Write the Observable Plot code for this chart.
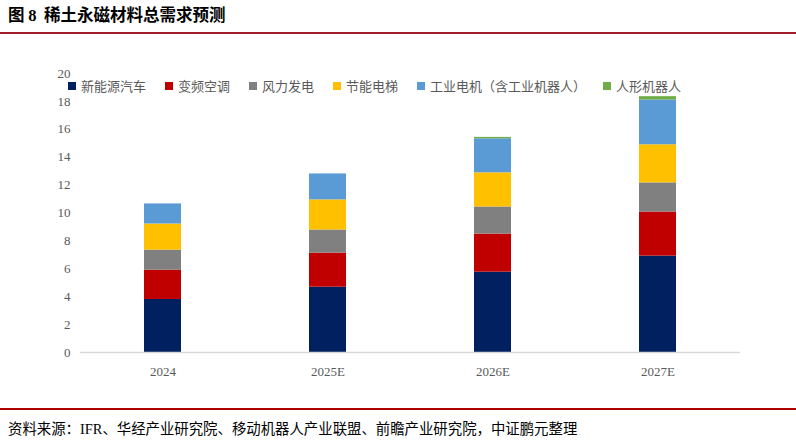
<!DOCTYPE html>
<html><head><meta charset="utf-8">
<script src="https://cdn.jsdelivr.net/npm/d3@7"></script>
<script src="https://cdn.jsdelivr.net/npm/@observablehq/plot@0.6"></script>
<style>
body{margin:0;background:#fff;width:796px;height:445px;overflow:hidden;position:relative;font-family:"Noto Sans CJK SC",sans-serif;}
#title{position:absolute;left:8px;top:2px;font-size:16.5px;font-weight:bold;color:#000;}
#title .n{font-family:"Liberation Serif",serif;font-weight:bold;}
.hl{position:absolute;left:0;width:796px;height:2px;}
#chart{position:absolute;left:0;top:40px;}
#legend{position:absolute;top:76px;left:0;height:18px;font-size:13px;color:#595959;}
.li{position:absolute;top:0;white-space:nowrap;}
.sw{display:inline-block;width:8px;height:8px;margin-right:5px;vertical-align:1px;}
#source{position:absolute;left:8px;top:417px;font-size:14.4px;color:#000;}
#source .s{font-family:"Liberation Serif",serif;}
</style></head><body>
<div id="title">图 <span class="n">8</span>&nbsp; 稀土永磁材料总需求预测</div>
<div class="hl" style="top:32px;background:#a01c2a"></div>
<div id="chart"></div>
<div id="legend"></div>
<div class="hl" style="top:408px;background:#b00000"></div>
<div id="source">资料来源：<span class="s">IFR</span>、华经产业研究院、移动机器人产业联盟、前瞻产业研究院，中证鹏元整理</div>
<script>
const years = ["2024", "2025E", "2026E", "2027E"];
const series = ["新能源汽车", "变频空调", "风力发电", "节能电梯", "工业电机（含工业机器人）", "人形机器人"];
const colors = ["#002060", "#c00000", "#808080", "#ffc000", "#5b9bd5", "#70ad47"];
const nev = [3.8, 4.68, 5.76, 6.91];
const ac = [2.1, 2.44, 2.73, 3.16];
const wind = [1.44, 1.66, 1.94, 2.09];
const elevator = [1.87, 2.16, 2.45, 2.73];
const motor = [1.44, 1.86, 2.44, 3.21];
const humanoid = [0, 0, 0.1, 0.24];
const yTicks = [0, 2, 4, 6, 8, 10, 12, 14, 16, 18, 20];

const seriesValues = [nev, ac, wind, elevator, motor, humanoid];
const data = [];
series.forEach((s, i) => years.forEach((y, j) => data.push({year: y, series: s, value: seriesValues[i][j]})));

const chart = Plot.plot({
  width: 796, height: 350,
  marginLeft: 80, marginRight: 56, marginTop: 33, marginBottom: 38,
  style: {fontFamily: "'Liberation Serif', serif", fontSize: "13px", color: "#595959", background: "transparent"},
  x: {domain: years, paddingInner: 0.776, paddingOuter: 0.388, label: null, tickSize: 0, tickPadding: 14},
  y: {domain: [0, 20], ticks: yTicks, label: null, tickSize: 0, tickPadding: 10, tickFormat: d => d},
  color: {domain: series, range: colors},
  marks: [
    Plot.barY(data, Plot.stackY({x: "year", y: "value", fill: "series", order: series})),
    Plot.ruleY([0], {stroke: "#d9d9d9", strokeWidth: 1.5})
  ]
});
document.getElementById("chart").appendChild(chart);

const legendX = [68, 165, 249, 333, 417, 603];
const lg = document.getElementById("legend");
series.forEach((s, i) => {
  const d = document.createElement("div");
  d.className = "li";
  d.style.left = legendX[i] + "px";
  d.innerHTML = `<span class="sw" style="background:${colors[i]}"></span>${s}`;
  lg.appendChild(d);
});
</script>
</body></html>
